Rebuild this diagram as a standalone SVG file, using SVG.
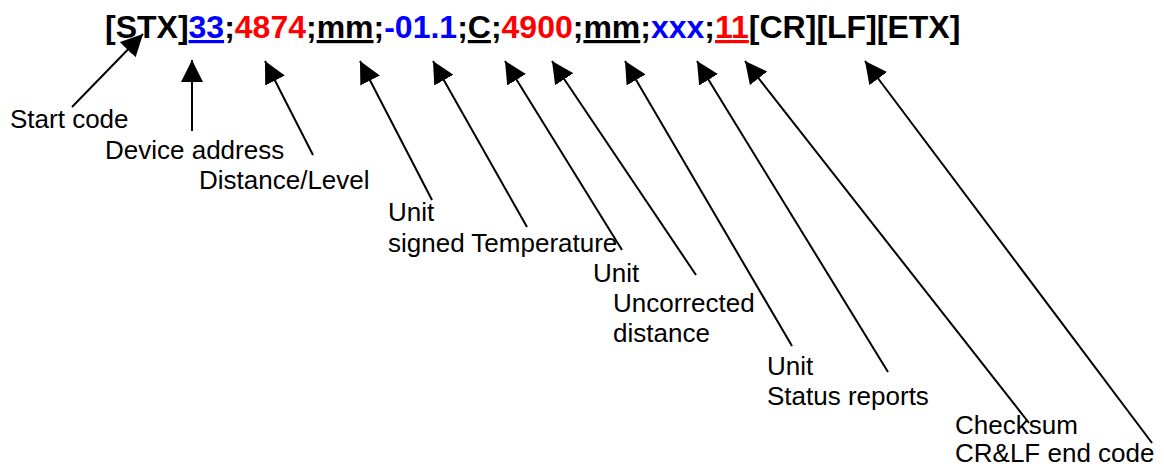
<svg xmlns="http://www.w3.org/2000/svg" width="1164" height="468" viewBox="0 0 1164 468">
<style>
.hdr{font-family:"Liberation Sans",Arial,sans-serif;font-weight:bold;font-size:32px;fill:#000}
.r{fill:#FF0000}
.b{fill:#0000FF}
.u{text-decoration:underline}
.lbl{font-family:"Liberation Sans",Arial,sans-serif;font-size:26px;fill:#000}
.ar{stroke:#000;stroke-width:2;fill:none;marker-end:url(#ah)}
</style>
<defs>
<marker id="ah" markerUnits="userSpaceOnUse" markerWidth="22" markerHeight="22" refX="20" refY="10" orient="auto" viewBox="0 0 20 20">
<path d="M0,0 L20,10 L0,20 z" fill="#000"/>
</marker>
</defs>
<rect width="1164" height="468" fill="#fff"/>
<g id="header">
<text class="hdr" x="105" y="38">[STX]<tspan class="b u">33</tspan>;<tspan class="r">4874</tspan>;<tspan class="u">mm</tspan>;<tspan class="b">-01.1</tspan>;<tspan class="u">C</tspan>;<tspan class="r">4900</tspan>;<tspan class="u">mm</tspan>;<tspan class="b">xxx</tspan>;<tspan class="r u">11</tspan>[CR][LF][ETX]</text>
</g>
<g id="connectors">
<line class="ar" x1="72" y1="107" x2="143" y2="34"/>
<line class="ar" x1="192" y1="131" x2="192" y2="60"/>
<line class="ar" x1="313" y1="155" x2="265" y2="61"/>
<line class="ar" x1="432" y1="200" x2="360" y2="61"/>
<line class="ar" x1="527" y1="227" x2="433" y2="61"/>
<line class="ar" x1="622" y1="250" x2="505" y2="61"/>
<line class="ar" x1="696" y1="275" x2="552" y2="61"/>
<line class="ar" x1="792" y1="346" x2="625" y2="61"/>
<line class="ar" x1="888" y1="372" x2="697" y2="61"/>
<line class="ar" x1="1029" y1="423" x2="745" y2="61"/>
<line class="ar" x1="1152" y1="443" x2="865" y2="61"/>
</g>
<g id="label-start"><text class="lbl" x="10" y="128">Start code</text></g>
<g id="label-address"><text class="lbl" x="105" y="159">Device address</text></g>
<g id="label-distance"><text class="lbl" x="199" y="189">Distance/Level</text></g>
<g id="label-unit1"><text class="lbl" x="388" y="221">Unit</text></g>
<g id="label-temp"><text class="lbl" x="388" y="252">signed Temperature</text></g>
<g id="label-unit2"><text class="lbl" x="593" y="282">Unit</text></g>
<g id="label-uncorr"><text class="lbl" x="613" y="312">Uncorrected</text><text class="lbl" x="613" y="342">distance</text></g>
<g id="label-unit3"><text class="lbl" x="767" y="375">Unit</text></g>
<g id="label-status"><text class="lbl" x="767" y="405">Status reports</text></g>
<g id="label-checksum"><text class="lbl" x="955" y="434">Checksum</text></g>
<g id="label-crlf"><text class="lbl" x="955" y="462">CR&amp;LF end code</text></g>
</svg>
